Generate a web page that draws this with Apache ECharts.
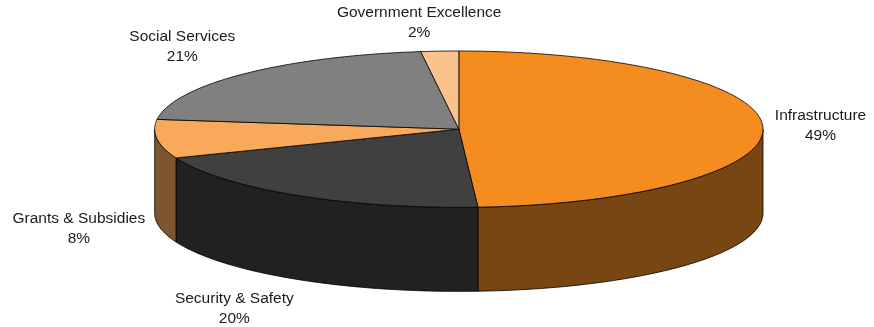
<!DOCTYPE html>
<html>
<head>
<meta charset="utf-8">
<script src="https://cdn.jsdelivr.net/npm/echarts@6/dist/echarts.min.js"></script>
<style>
  html, body { margin: 0; padding: 0; background: #ffffff; }
  #chart { width: 874px; height: 327px; }
</style>
</head>
<body>
<div id="chart"></div>
<script>
// Budget allocation by sector (share of total, %)
const categories = ['Infrastructure', 'Security & Safety', 'Grants & Subsidies', 'Social Services', 'Government Excellence'];
const shares = [49, 20, 8, 21, 2];

// Face colours (top) and wall colours (side) per sector
const topColors = ['#F58C20', '#404040', '#F9A95A', '#808080', '#FBC28C'];
const sideColors = ['#784612', '#212121', '#7D5530', '#404040', '#7D6146'];

const FONT = '15.5px "Liberation Sans", Arial, sans-serif';
const LINE_H = 20;

const total = shares.reduce((a, b) => a + b, 0);
// cumulative start angles, degrees clockwise from 12 o'clock
const startAngles = [];
shares.reduce((acc, v, i) => { startAngles[i] = acc; return acc + v / total * 360; }, 0);

const measureCtx = document.createElement('canvas').getContext('2d');
measureCtx.font = FONT;
function textWidth(str) {
  return Math.max(...str.split('\n').map(s => measureCtx.measureText(s).width));
}

function geometry(api) {
  const W = api.getWidth(), H = api.getHeight();
  const rx = W * 0.348;
  return { cx: W * 0.525, cy: H * 0.395, rx: rx, ry: rx * 0.257, depth: H * 0.257 };
}

function pt(g, deg, dy) {
  const r = deg * Math.PI / 180;
  return [g.cx + g.rx * Math.sin(r), g.cy - g.ry * Math.cos(r) + (dy || 0)];
}

function arcPoints(g, a, b, dy) {
  const pts = [];
  const n = Math.max(2, Math.ceil(Math.abs(b - a)));
  for (let k = 0; k <= n; k++) pts.push(pt(g, a + (b - a) * k / n, dy));
  return pts;
}

function sliceSpan(i, api) {
  const a = startAngles[i];
  return [a, a + api.value(0) / total * 360];
}

// Outer cylinder wall: only the front half (90°..270°) can be seen
function renderWall(params, api) {
  const g = geometry(api);
  const [a, b] = sliceSpan(params.dataIndex, api);
  const s = Math.max(a, 90), e = Math.min(b, 270);
  if (e <= s) return null;
  const pts = arcPoints(g, s, e, 0).concat(arcPoints(g, e, s, g.depth));
  return {
    type: 'polygon',
    shape: { points: pts },
    style: { fill: sideColors[params.dataIndex], stroke: '#000', lineWidth: 0.8 }
  };
}

// Top face of each slice plus its outside label
function renderTop(params, api) {
  const g = geometry(api);
  const i = params.dataIndex;
  const [a, b] = sliceSpan(i, api);
  const pts = [[g.cx, g.cy]].concat(arcPoints(g, a, b, 0));

  const mid = (a + b) / 2 * Math.PI / 180;
  const sn = Math.sin(mid), cs = Math.cos(mid);
  const pct = Math.round(api.value(0) / total * 100);
  const label = categories[i] + '\n' + pct + '%';
  const w = textWidth(label);
  // label sits just outside the rim; it swings to the side it points at
  const ax = g.cx + (g.rx + 12) * sn;
  const swing = Math.min(1, 0.15 + 1.45 * Math.abs(sn));
  const tx = ax + 0.5 * Math.sign(sn) * swing * w;
  const gap = 8 + 14 * Math.abs(sn);
  const ty = g.cy - (g.ry + gap + LINE_H) * cs + (cs < 0 ? g.depth : 0);

  return {
    type: 'group',
    children: [
      {
        type: 'polygon',
        shape: { points: pts },
        style: { fill: topColors[i], stroke: '#000', lineWidth: 0.8 }
      },
      {
        type: 'text',
        x: tx, y: ty,
        style: {
          text: label, font: FONT, fill: '#1a1a1a',
          align: 'center', verticalAlign: 'middle', lineHeight: LINE_H
        }
      }
    ]
  };
}

const seriesData = shares.map((v, i) => ({ name: categories[i], value: v }));

const chart = echarts.init(document.getElementById('chart'), null, { renderer: 'canvas' });
chart.setOption({
  backgroundColor: '#ffffff',
  animation: false,
  series: [
    { type: 'custom', coordinateSystem: 'none', z: 1, silent: true, data: seriesData, renderItem: renderWall },
    { type: 'custom', coordinateSystem: 'none', z: 2, silent: true, data: seriesData, renderItem: renderTop }
  ]
});
</script>
</body>
</html>
